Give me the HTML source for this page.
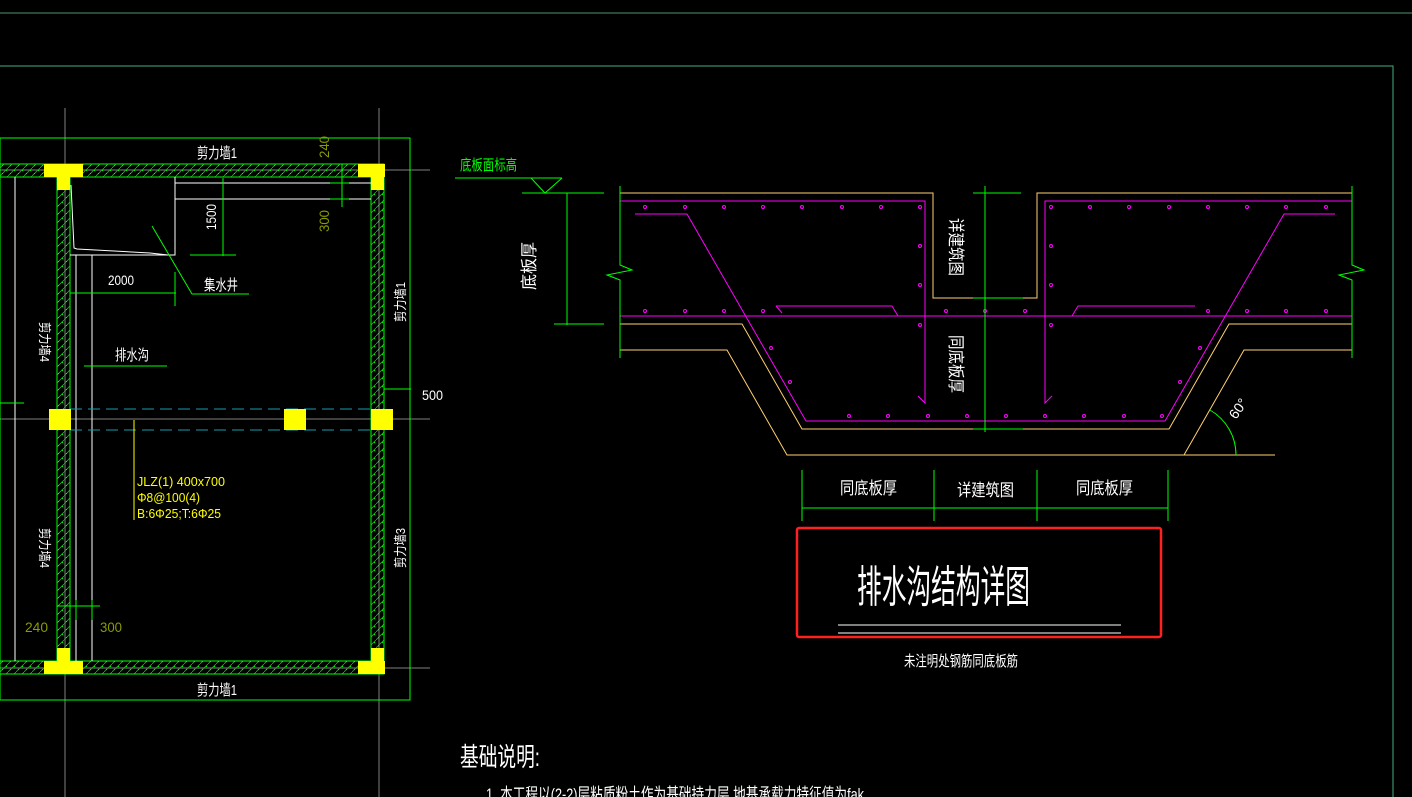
<!DOCTYPE html>
<html><head><meta charset="utf-8"><style>
html,body{margin:0;padding:0;background:#000;overflow:hidden}
svg{display:block}
text{font-family:"Liberation Sans","Noto Sans CJK SC",sans-serif}
</style></head><body>
<svg width="1412" height="797" viewBox="0 0 1412 797" xmlns="http://www.w3.org/2000/svg">
<defs>
<pattern id="hat" width="8" height="8" patternUnits="userSpaceOnUse">
<path d="M0 8 L8 0" stroke="#00c800" stroke-width="0.8"/>
<rect x="2" y="5" width="1" height="1" fill="#00ff00"/><rect x="6" y="2" width="1" height="1" fill="#00ff00"/>
</pattern>
</defs>
<rect width="1412" height="797" fill="#000"/>
<!-- frame lines -->
<line x1="0" y1="13" x2="1412" y2="13" stroke="#4a9a6a" stroke-width="1"/>
<polyline points="0,66 1393,66 1393,797" fill="none" stroke="#40b080" stroke-width="1"/>

<!-- grid lines gray -->
<g stroke="#808080" stroke-width="1">
<line x1="65" y1="108" x2="65" y2="797"/>
<line x1="379" y1="108" x2="379" y2="797"/>
<line x1="0" y1="170" x2="430" y2="170"/>
<line x1="0" y1="419" x2="430" y2="419"/>
<line x1="0" y1="668" x2="430" y2="668"/>
</g>
<rect x="0" y="138" width="410" height="562" fill="none" stroke="#00ff00" stroke-width="1"/>

<!-- walls -->
<g fill="url(#hat)" stroke="#00ff00" stroke-width="1">
<rect x="0" y="164" width="384" height="13"/>
<rect x="57" y="177" width="13" height="484"/>
<rect x="371" y="177" width="13" height="484"/>
<rect x="0" y="661" width="384" height="13"/>
</g>
<!-- white lines -->
<g stroke="#fff" stroke-width="1" fill="none">
<line x1="15" y1="177" x2="15" y2="661"/>
<line x1="76" y1="255" x2="76" y2="661"/>
<line x1="92" y1="255" x2="92" y2="661"/>
<polyline points="71,185 74,248 77,249 150,253 168,255 175,255 175,177"/>
<line x1="70" y1="255" x2="175" y2="255"/>
<line x1="175" y1="183" x2="371" y2="183"/>
<line x1="175" y1="199" x2="371" y2="199"/>
</g>
<!-- cyan dashed -->
<g stroke="#1a9aaa" stroke-width="1" stroke-dasharray="12,6">
<line x1="70" y1="409" x2="371" y2="409"/>
<line x1="70" y1="430" x2="371" y2="430"/>
</g>
<!-- yellow columns -->
<g fill="#ffff00">
<rect x="44" y="164" width="39" height="13"/><rect x="57" y="177" width="13" height="13"/>
<rect x="358" y="164" width="27" height="13"/><rect x="371" y="177" width="13" height="13"/>
<rect x="49" y="409" width="22" height="21"/><rect x="284" y="409" width="22" height="21"/><rect x="371" y="409" width="22" height="21"/>
<rect x="57" y="648" width="13" height="13"/><rect x="44" y="661" width="39" height="13"/>
<rect x="371" y="648" width="13" height="13"/><rect x="358" y="661" width="27" height="13"/>
</g>
<line x1="134" y1="420" x2="134" y2="520" stroke="#ffff00"/>
<!-- green dims left -->
<g stroke="#00ff00" stroke-width="1" fill="none">
<line x1="223" y1="178" x2="223" y2="256"/><line x1="190" y1="255" x2="236" y2="255"/>
<line x1="342" y1="164" x2="342" y2="207"/><line x1="330" y1="183" x2="349" y2="183"/><line x1="330" y1="199" x2="349" y2="199"/>
<line x1="70" y1="293" x2="176" y2="293"/><line x1="175" y1="272" x2="175" y2="306"/>
<polyline points="152,226 192,294 249,294"/>
<line x1="84" y1="366" x2="167" y2="366"/>
<line x1="384" y1="389" x2="411" y2="389"/>
<line x1="57" y1="606" x2="100" y2="606"/><line x1="76" y1="600" x2="76" y2="620"/><line x1="92" y1="600" x2="92" y2="620"/>
<line x1="0" y1="403" x2="24" y2="403"/>
</g>
<!-- left texts -->
<g fill="#fff" font-size="15">
<text x="197" y="158" textLength="40" lengthAdjust="spacingAndGlyphs">剪力墙1</text>
<text x="197" y="695" textLength="40" lengthAdjust="spacingAndGlyphs">剪力墙1</text>
<text x="108" y="285" textLength="26" lengthAdjust="spacingAndGlyphs" font-size="14">2000</text>
<text x="204" y="290" textLength="34" lengthAdjust="spacingAndGlyphs">集水井</text>
<text x="115" y="360" textLength="34" lengthAdjust="spacingAndGlyphs">排水沟</text>
<text x="422" y="400" textLength="21" lengthAdjust="spacingAndGlyphs" font-size="14">500</text>
<text transform="translate(216,230) rotate(-90)" textLength="26" lengthAdjust="spacingAndGlyphs" font-size="14">1500</text>
<text transform="translate(40,322) rotate(90)" textLength="40" lengthAdjust="spacingAndGlyphs" font-size="13">剪力墙4</text>
<text transform="translate(405,322) rotate(-90)" textLength="40" lengthAdjust="spacingAndGlyphs" font-size="13">剪力墙1</text>
<text transform="translate(40,528) rotate(90)" textLength="40" lengthAdjust="spacingAndGlyphs" font-size="13">剪力墙4</text>
<text transform="translate(405,568) rotate(-90)" textLength="40" lengthAdjust="spacingAndGlyphs" font-size="13">剪力墙3</text>
</g>
<g fill="#8a9a00" font-size="14">
<text x="25" y="632" textLength="23" lengthAdjust="spacingAndGlyphs">240</text>
<text x="100" y="632" textLength="22" lengthAdjust="spacingAndGlyphs">300</text>
<text transform="translate(329,232) rotate(-90)" textLength="22" lengthAdjust="spacingAndGlyphs">300</text>
<text transform="translate(329,158) rotate(-90)" textLength="22" lengthAdjust="spacingAndGlyphs">240</text>
</g>
<g fill="#ffff00" font-size="13">
<text x="137" y="486" textLength="88" lengthAdjust="spacingAndGlyphs">JLZ(1) 400x700</text>
<text x="137" y="502" textLength="63" lengthAdjust="spacingAndGlyphs">Φ8@100(4)</text>
<text x="137" y="518" textLength="84" lengthAdjust="spacingAndGlyphs">B:6Φ25;T:6Φ25</text>
</g>

<!-- section drawing -->
<g fill="none" stroke="#ffd070" stroke-width="1">
<polyline points="620,193 933,193 933,298 1037,298 1037,193 1352,193"/>
<polyline points="620,324 742,324 802,429 1169,429 1229,324 1352,324"/>
<polyline points="620,350 727,350 787,455 1275,455"/>
<polyline points="1184,455 1244,350 1352,350"/>
</g>
<g fill="none" stroke="#ff00ff" stroke-width="1">
<polyline points="620,201 925,201 925,403 918,396"/>
<polyline points="1352,201 1045,201 1045,403 1052,396"/>
<polyline points="635,214 687,214 806,421 1165,421 1284,214 1335,214"/>
<line x1="620" y1="316" x2="1352" y2="316"/>
<polyline points="776,306 892,306 898,316"/>
<polyline points="782,313 776,306"/>
<polyline points="1195,306 1078,306 1072,316"/>
</g>
<g fill="none" stroke="#ff00ff" stroke-width="1">
<circle cx="645" cy="207" r="1.5"/><circle cx="685" cy="207" r="1.5"/><circle cx="724" cy="207" r="1.5"/><circle cx="763" cy="207" r="1.5"/><circle cx="802" cy="207" r="1.5"/><circle cx="842" cy="207" r="1.5"/><circle cx="881" cy="207" r="1.5"/><circle cx="920" cy="207" r="1.5"/>
<circle cx="920" cy="246" r="1.5"/><circle cx="920" cy="285" r="1.5"/><circle cx="920" cy="325" r="1.5"/>
<circle cx="645" cy="311" r="1.5"/><circle cx="685" cy="311" r="1.5"/><circle cx="724" cy="311" r="1.5"/><circle cx="763" cy="311" r="1.5"/>
<circle cx="771" cy="348" r="1.5"/><circle cx="790" cy="382" r="1.5"/>
<circle cx="1051" cy="207" r="1.5"/><circle cx="1090" cy="207" r="1.5"/><circle cx="1129" cy="207" r="1.5"/><circle cx="1169" cy="207" r="1.5"/><circle cx="1208" cy="207" r="1.5"/><circle cx="1247" cy="207" r="1.5"/><circle cx="1286" cy="207" r="1.5"/><circle cx="1326" cy="207" r="1.5"/>
<circle cx="1051" cy="246" r="1.5"/><circle cx="1051" cy="285" r="1.5"/><circle cx="1051" cy="325" r="1.5"/>
<circle cx="946" cy="311" r="1.5"/><circle cx="985" cy="311" r="1.5"/><circle cx="1025" cy="311" r="1.5"/>
<circle cx="1208" cy="311" r="1.5"/><circle cx="1247" cy="311" r="1.5"/><circle cx="1286" cy="311" r="1.5"/><circle cx="1326" cy="311" r="1.5"/>
<circle cx="1200" cy="348" r="1.5"/><circle cx="1180" cy="382" r="1.5"/>
<circle cx="849" cy="416" r="1.5"/><circle cx="888" cy="416" r="1.5"/><circle cx="928" cy="416" r="1.5"/><circle cx="967" cy="416" r="1.5"/><circle cx="1006" cy="416" r="1.5"/><circle cx="1045" cy="416" r="1.5"/><circle cx="1084" cy="416" r="1.5"/><circle cx="1124" cy="416" r="1.5"/><circle cx="1162" cy="416" r="1.5"/>
</g>
<g fill="none" stroke="#00ff00" stroke-width="1">
<polyline points="620,186 620,265 632,270 607,275 620,280 620,358"/>
<polyline points="1352,186 1352,265 1364,270 1339,275 1352,280 1352,358"/>
<line x1="985" y1="186" x2="985" y2="432"/>
<line x1="973" y1="193" x2="1021" y2="193"/><line x1="973" y1="298" x2="1023" y2="298"/><line x1="973" y1="429" x2="1023" y2="429"/>
<line x1="455" y1="178" x2="562" y2="178"/>
<polyline points="531,178 545,193 562,178"/>
<line x1="522" y1="193" x2="604" y2="193"/>
<line x1="567" y1="193" x2="567" y2="325"/>
<line x1="554" y1="324" x2="604" y2="324"/>
<line x1="802" y1="470" x2="802" y2="521"/><line x1="934" y1="470" x2="934" y2="521"/><line x1="1037" y1="470" x2="1037" y2="521"/><line x1="1168" y1="470" x2="1168" y2="521"/>
<line x1="802" y1="508" x2="1168" y2="508"/>
<path d="M1210 410 A52 52 0 0 1 1236 455"/>
</g>
<g fill="#00ff00" font-size="15">
<text x="460" y="170" textLength="57" lengthAdjust="spacingAndGlyphs">底板面标高</text>
</g>
<g fill="#fff" font-size="17">
<text transform="translate(535,290) rotate(-90)" textLength="48" lengthAdjust="spacingAndGlyphs">底板厚</text>
<text transform="translate(950,218) rotate(90)" textLength="58" lengthAdjust="spacingAndGlyphs">详建筑图</text>
<text transform="translate(950,335) rotate(90)" textLength="58" lengthAdjust="spacingAndGlyphs">同底板厚</text>
<text x="840" y="494" textLength="57" lengthAdjust="spacingAndGlyphs">同底板厚</text>
<text x="957" y="496" textLength="57" lengthAdjust="spacingAndGlyphs">详建筑图</text>
<text x="1076" y="494" textLength="57" lengthAdjust="spacingAndGlyphs">同底板厚</text>
<text transform="translate(1236,420) rotate(-55)" font-size="14">60°</text>
</g>
<rect x="797" y="528" width="364" height="109" rx="2" fill="none" stroke="#ff2020" stroke-width="2.5"/>
<text x="857" y="602" fill="#fff" font-size="44" textLength="173" lengthAdjust="spacingAndGlyphs">排水沟结构详图</text>
<line x1="838" y1="625" x2="1121" y2="625" stroke="#fff"/>
<line x1="838" y1="633" x2="1121" y2="633" stroke="#fff"/>
<text x="904" y="666" fill="#fff" font-size="15" textLength="114" lengthAdjust="spacingAndGlyphs">未注明处钢筋同底板筋</text>
<text x="460" y="766" fill="#fff" font-size="26" textLength="80" lengthAdjust="spacingAndGlyphs">基础说明:</text>
<text x="486" y="800" fill="#fff" font-size="17" textLength="378" lengthAdjust="spacingAndGlyphs">1. 本工程以(2-2)层粘质粉土作为基础持力层,地基承载力特征值为fak</text>
</svg>
</body></html>
